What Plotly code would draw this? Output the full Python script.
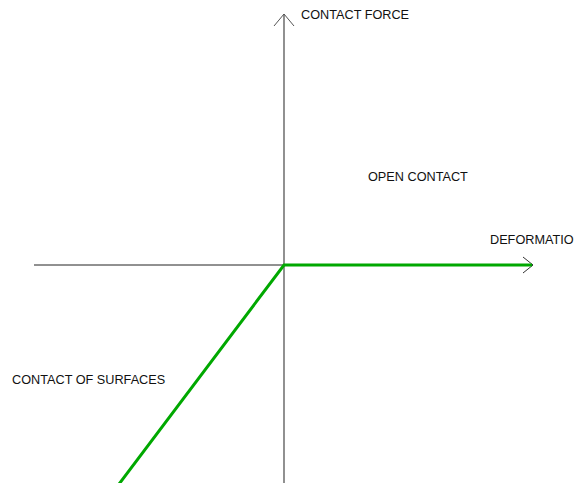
import plotly.graph_objects as go

# contact law: deformation vs contact force
deformation = [-180, 0, 248]
contact_force = [-239, 0, 0]

# axis extents (drawn as plain lines with open arrow heads)
x_axis_span = [-250, 249]
y_axis_span = [-240, 251]

labels = ["CONTACT FORCE", "OPEN CONTACT", "DEFORMATION", "CONTACT OF SURFACES"]
label_pos = [(15, 250), (82, 88), (204, 25), (-274, -115)]

axis_color = "#333333"

fig = go.Figure()

# x axis with arrow
fig.add_trace(go.Scatter(
    x=x_axis_span, y=[0, 0], mode="lines",
    line=dict(color="#222222", width=1), hoverinfo="skip",
))
tip = x_axis_span[1]
fig.add_trace(go.Scatter(
    x=[tip - 10, tip, tip - 10], y=[8, 0, -8], mode="lines",
    line=dict(color=axis_color, width=1), hoverinfo="skip",
))

# y axis with arrow
fig.add_trace(go.Scatter(
    x=[0, 0], y=y_axis_span, mode="lines",
    line=dict(color="#555555", width=1.3), hoverinfo="skip",
))
tip = y_axis_span[1]
fig.add_trace(go.Scatter(
    x=[-10, 0, 10], y=[tip - 12, tip, tip - 12], mode="lines",
    line=dict(color="#555555", width=1), hoverinfo="skip",
))

# the law itself
fig.add_trace(go.Scatter(
    x=deformation, y=contact_force, mode="lines",
    line=dict(color="#00a800", width=3), hoverinfo="skip",
))

for text, (lx, ly) in zip(labels, label_pos):
    fig.add_annotation(
        x=lx, y=ly, text=text, showarrow=False,
        xanchor="left", yanchor="middle",
        font=dict(family="Liberation Sans, Arial", size=12.7, color="#111111"),
    )

fig.update_layout(
    width=582, height=483,
    margin=dict(l=0, r=0, t=0, b=0),
    paper_bgcolor="white", plot_bgcolor="white",
    showlegend=False,
    xaxis=dict(range=[-276, 306], visible=False, fixedrange=True),
    yaxis=dict(range=[-226, 257], visible=False, fixedrange=True),
)

fig.write_html("out.html")
